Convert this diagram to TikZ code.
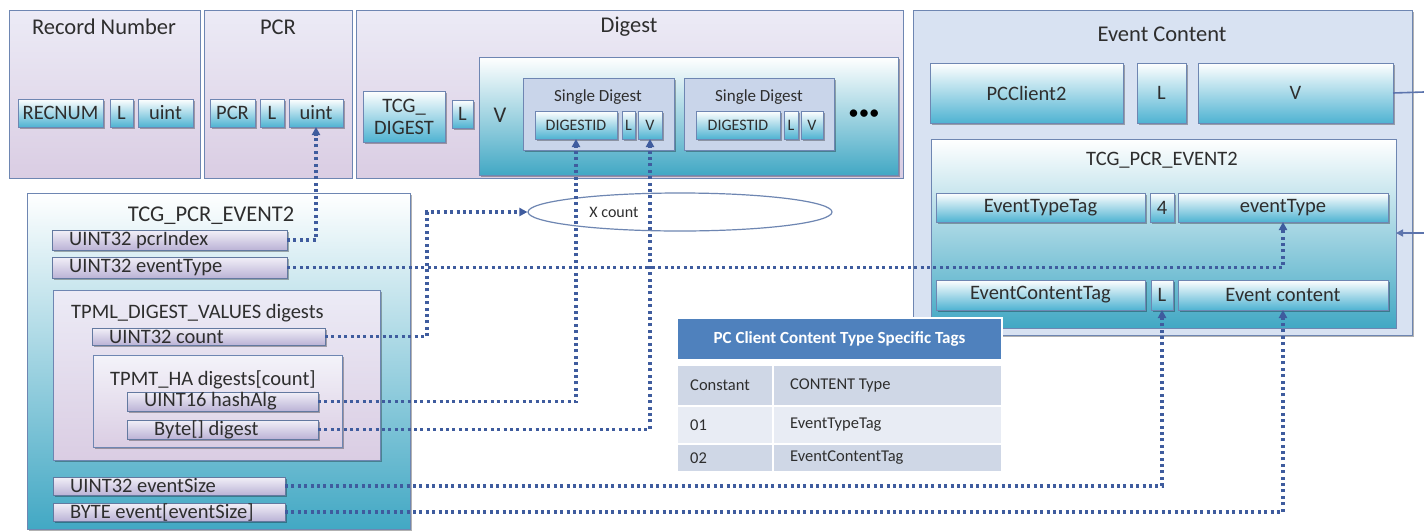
\documentclass[tikz,border=0pt]{standalone}
\usepackage{fontspec}
\setmainfont{Carlito}
\usetikzlibrary{shapes.geometric,arrows.meta,shadows}
\definecolor{bordr}{HTML}{6E86B2}
\definecolor{txt}{HTML}{2E2E2E}
\definecolor{lavT}{HTML}{ECEBF6}
\definecolor{lavB}{HTML}{DACDE3}
\definecolor{cyanB}{HTML}{4FB3D2}
\definecolor{tealB}{HTML}{42A8C4}
\definecolor{ecblue}{HTML}{D8E2F2}
\definecolor{sdblue}{HTML}{C9D5EA}
\definecolor{fldT}{HTML}{F2F0F8}
\definecolor{fldB}{HTML}{BBB3D6}
\definecolor{conn}{HTML}{3F5C9E}
\definecolor{hdr}{HTML}{4F81BD}
\definecolor{rowA}{HTML}{CFD7E6}
\definecolor{rowB}{HTML}{E8ECF4}
\newcommand{\rb}[7]{\node[#6, minimum width={(#4)-(#2)}, minimum height={(#5)-(#3)}] (#1) at ({((#2)+(#4))/2},{((#3)+(#5))/2}) {#7};}
\tikzset{
  base/.style={draw=bordr, line width=1pt, inner sep=0pt, outer sep=0pt, text=txt, font=\fontsize{20.5}{20}\selectfont},
  shad/.style={drop shadow={shadow xshift=1.5pt, shadow yshift=-1.5pt, opacity=0.3, fill=black}},
  outerbox/.style={base, top color=lavT, bottom color=lavB},
  fld/.style={base, top color=white, bottom color=cyanB, shad},
  tealbox/.style={base, top color=white, bottom color=tealB},
  sdbox/.style={base, fill=sdblue, shad},
  lfld/.style={base, top color=fldT, bottom color=fldB, shad, draw=bordr!90!black},
  lab/.style={anchor=west, xshift=17pt, inner sep=0pt, text=txt, font=\fontsize{20.5}{20}\selectfont},
  ttl/.style={inner sep=0pt, text=txt, font=\fontsize{22.5}{22}\selectfont},
  small/.style={inner sep=0pt, text=txt, font=\fontsize{16}{16}\selectfont},
  conn/.style={draw=conn, line width=3.2pt, dash pattern=on 3pt off 3.4pt, -{Triangle[length=8pt,width=8pt]}},
  solidc/.style={draw=conn!85, line width=1.6pt},
  cell/.style={inner sep=0pt, outer sep=0pt, draw=white, line width=1.2pt},
  celltxt/.style={anchor=west, xshift=13pt, inner sep=0pt, text=txt, font=\fontsize{16.5}{16}\selectfont}
}
\begin{document}
\begin{tikzpicture}[x=1pt,y=-1pt]
\useasboundingbox (0,0) rectangle (1424,531);
\fill[white] (0,0) rectangle (1424,531);
% ---- Record Number
\rb{recbox}{9}{10}{200}{178}{outerbox}{}
\node[ttl] (rectitle) at (104,27) {Record Number};
\rb{recnum}{18}{99}{103}{127}{fld}{RECNUM}
\rb{recL}{110}{99}{133}{127}{fld}{L}
\rb{recuint}{138}{99}{193}{127}{fld}{uint}
% ---- PCR
\rb{pcrbox}{204}{10}{352}{178}{outerbox}{}
\node[ttl] (pcrtitle) at (278,27) {PCR};
\rb{pcrpcr}{210}{99}{255}{127}{fld}{PCR}
\rb{pcrL}{260}{99}{284}{127}{fld}{L}
\rb{pcruint}{289}{99}{343}{127}{fld}{uint}
% ---- Digest
\rb{digbox}{356}{10}{903}{178}{outerbox}{}
\node[ttl] (digtitle) at (629,27) {Digest};
\rb{tcgdig}{363}{91}{445}{142}{fld, align=center}{TCG\_\\[2pt]DIGEST}
\rb{digL}{452}{100}{473}{128}{fld}{L}
\rb{digV}{479}{57}{898}{175}{tealbox, shad}{}
\node[ttl] (digVtxt) at (500,115) {V};
\rb{sd1}{523}{78}{674}{150}{sdbox}{}
\node[small, font=\fontsize{17}{17}\selectfont] (sd1t) at (598,97) {Single Digest};
\rb{dig1}{535}{111}{617}{139}{fld, font=\fontsize{16}{16}\selectfont}{DIGESTID}
\rb{l1}{622}{111}{635}{139}{fld, font=\fontsize{16}{16}\selectfont}{L}
\rb{v1}{638}{111}{662}{139}{fld, font=\fontsize{16}{16}\selectfont}{V}
\rb{sd2}{684}{78}{834}{150}{sdbox}{}
\node[small, font=\fontsize{17}{17}\selectfont] (sd2t) at (759,97) {Single Digest};
\rb{dig2}{696}{111}{780}{139}{fld, font=\fontsize{16}{16}\selectfont}{DIGESTID}
\rb{l2}{784}{111}{798}{139}{fld, font=\fontsize{16}{16}\selectfont}{L}
\rb{v2}{801}{111}{823}{139}{fld, font=\fontsize{16}{16}\selectfont}{V}
\node[inner sep=0pt, text=black, font=\fontsize{21}{21}\selectfont] (dots) at (864,115) {•••};
% ---- Event Content
\rb{ecbox}{913}{10}{1412}{335}{base, fill=ecblue, shad}{}
\node[ttl] (ectitle) at (1162,34) {Event Content};
\rb{pcc}{930}{63}{1123}{123}{fld}{PCClient2}
\rb{pccL}{1137}{63}{1186}{123}{fld}{L}
\rb{pccV}{1198}{63}{1393}{123}{fld}{V}
\rb{ecin}{931}{139}{1396}{328}{tealbox}{}
\node[ttl, font=\fontsize{20.5}{20}\selectfont] (ecintitle) at (1162,160) {TCG\_PCR\_EVENT2};
\rb{ettag}{936}{193}{1145}{222}{fld}{EventTypeTag}
\rb{et4}{1150}{193}{1174}{222}{fld}{4}
\rb{etR}{1178}{193}{1388}{222}{fld}{eventType}
\rb{ectag}{936}{280}{1145}{310}{fld}{EventContentTag}
\rb{ecL}{1151}{280}{1173}{310}{fld}{L}
\rb{ecC}{1178}{280}{1388}{310}{fld}{Event content}
\coordinate (exitA) at (1424,92);
\coordinate (exitB) at (1424,233);
\draw[solidc] (pccV.east) -- (exitA);
\draw[solidc, -{Triangle[length=7pt,width=7pt]}] (exitB) -- (ecin.east |- exitB);
% ---- Left TCG_PCR_EVENT2
\rb{lbox}{27}{193}{410}{529}{tealbox, shad}{}
\node[ttl] (ltitle) at (211,216) {TCG\_PCR\_EVENT2};
\rb{pcrIndex}{52}{230}{287}{250}{lfld, label={[lab]west:UINT32 pcrIndex}}{}
\rb{evType}{52}{257}{287}{278}{lfld, label={[lab]west:UINT32 eventType}}{}
\rb{tpml}{53}{290}{380}{460}{base, top color=lavT, bottom color=lavB, shad}{}
\node[ttl, anchor=west, font=\fontsize{20.5}{20}\selectfont] (tpmlt) at (71,313) {TPML\_DIGEST\_VALUES digests};
\rb{count}{92}{328}{325}{345}{lfld, label={[lab]west:UINT32 count}}{}
\rb{tpmt}{93}{355}{342}{447}{base, top color=lavT!60!white, bottom color=lavB, shad}{}
\node[ttl, anchor=west, font=\fontsize{20.5}{20}\selectfont] (tpmtt) at (110,380) {TPMT\_HA digests[count]};
\rb{hashAlg}{127}{392}{318}{411}{lfld, label={[lab]west:UINT16 hashAlg}}{}
\rb{bytedig}{127}{420}{318}{439}{lfld, label={[lab, xshift=10pt]west:Byte[] digest}}{}
\rb{evSize}{53}{477}{285}{495}{lfld, label={[lab]west:UINT32 eventSize}}{}
\rb{evEvent}{53}{503}{285}{521}{lfld, label={[lab]west:BYTE event[eventSize]}}{}
% ---- ellipse
\node[ellipse, draw=bordr, line width=1.2pt, fill=white, minimum width=304, minimum height=38, inner sep=0pt] (xell) at (680,212) {};
\node[small] (xtxt) at (614,212) {X count};
% ---- table
\rb{thdr}{677}{318}{1002}{360}{cell, fill=hdr, text=white, font=\bfseries\fontsize{17}{17}\selectfont}{PC Client Content Type Specific Tags}
\rb{c11}{677}{365}{773}{406}{cell, fill=rowA, label={[celltxt]west:Constant}}{}
\rb{c12}{773}{365}{1002}{406}{cell, fill=rowA, label={[celltxt, xshift=4pt]west:CONTENT Type}}{}
\rb{c21}{677}{406}{773}{444}{cell, fill=rowB, label={[celltxt]west:01}}{}
\rb{c22}{773}{406}{1002}{444}{cell, fill=rowB, label={[celltxt, xshift=4pt]west:EventTypeTag}}{}
\rb{c31}{677}{444}{773}{472}{cell, fill=rowA, label={[celltxt]west:02}}{}
\rb{c32}{773}{444}{1002}{472}{cell, fill=rowA, label={[celltxt, xshift=4pt]west:EventContentTag}}{}
% ---- connectors
\coordinate (cbend) at (427,212);
\draw[conn] (pcrIndex.east) -| (pcruint.south);
\draw[conn] (evType.east) -| (etR.south);
\draw[conn] (count.east) -| (cbend) -- (xell.west);
\draw[conn] (hashAlg.east) -| (dig1.south);
\draw[conn] (bytedig.east) -| (v1.south);
\draw[conn] (evSize.east) -| (ecL.south);
\draw[conn] (evEvent.east) -| (ecC.south);
\end{tikzpicture}
\end{document}
